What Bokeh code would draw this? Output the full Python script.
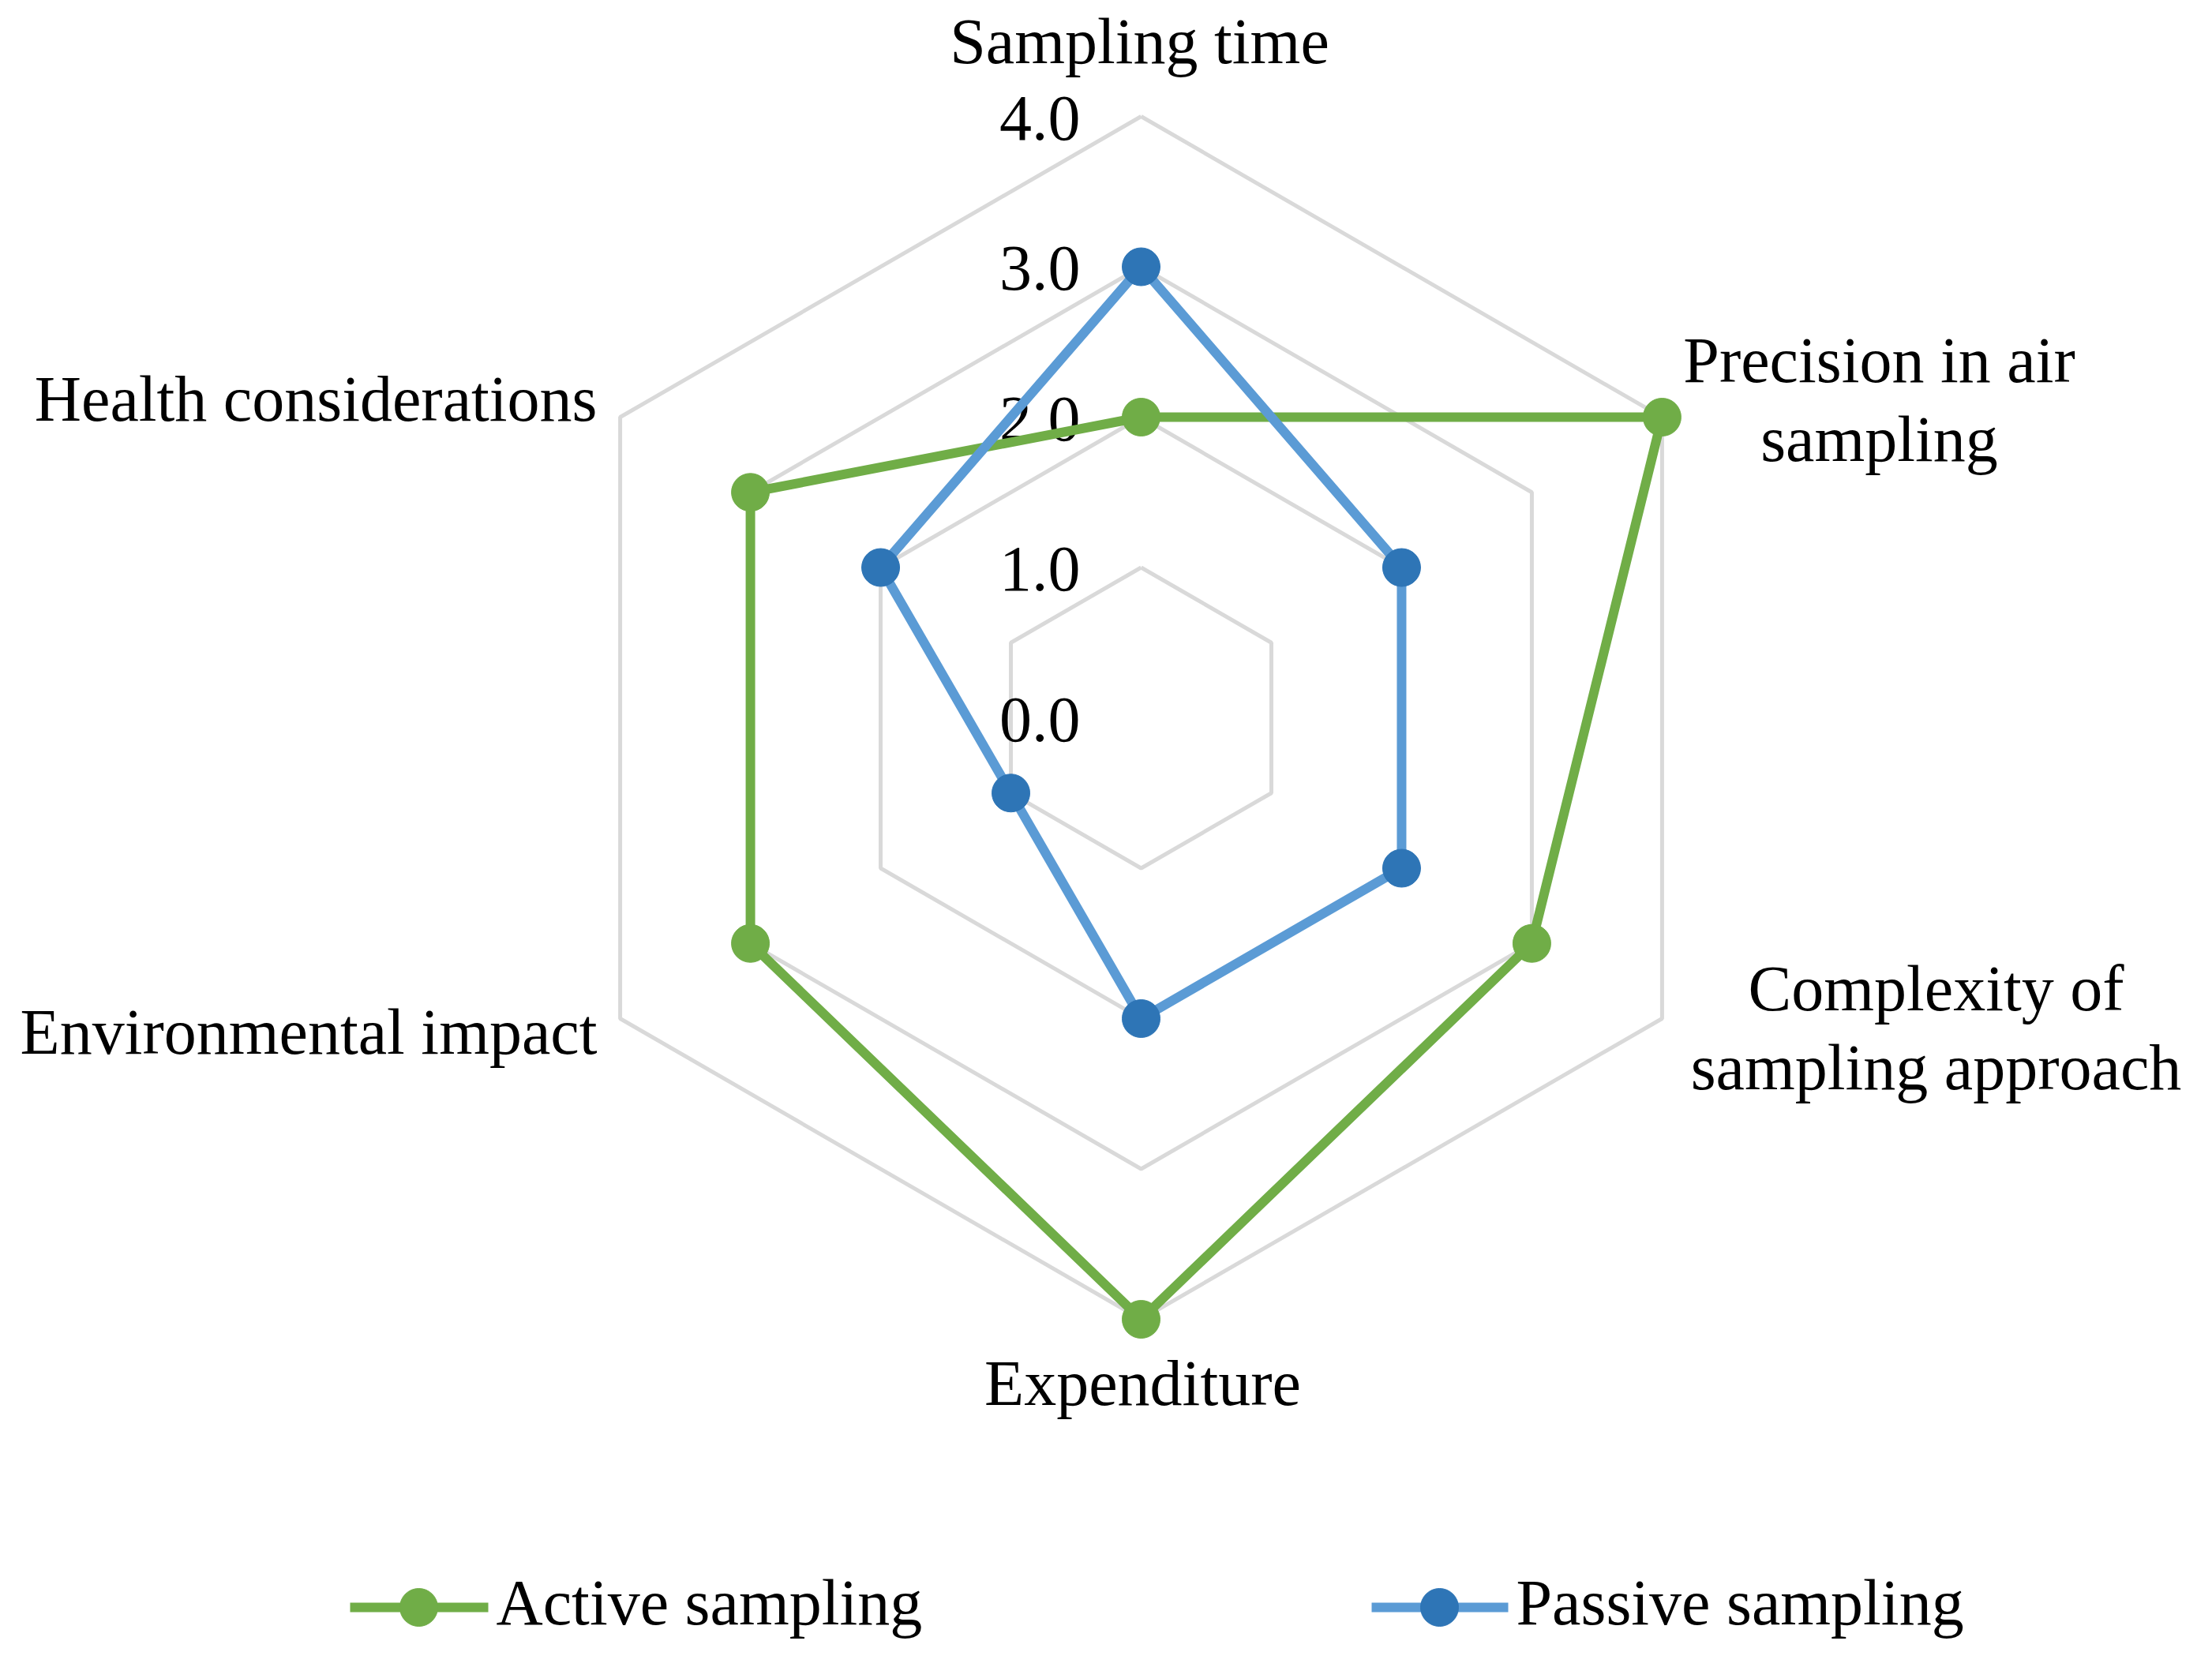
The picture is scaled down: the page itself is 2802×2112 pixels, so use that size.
import numpy as np
from bokeh.plotting import figure
from bokeh.models import Range1d, ColumnDataSource
from bokeh.core.properties import value
from bokeh.embed import file_html
from bokeh.resources import INLINE

# ---------------- data ----------------
categories = ["Sampling time",
              "Precision in air\nsampling",
              "Complexity of\nsampling approach",
              "Expenditure",
              "Environmental impact",
              "Health considerations"]
active = [2.0, 4.0, 3.0, 4.0, 3.0, 3.0]
passive = [3.0, 2.0, 2.0, 2.0, 1.0, 2.0]
tick_values = [0.0, 1.0, 2.0, 3.0, 4.0]
tick_labels = ["0.0", "1.0", "2.0", "3.0", "4.0"]
series_names = ["Active sampling", "Passive sampling"]

# ---------------- layout ----------------
W, H = 2786, 2096
OFF = 0                            # figure origin in the photographed page
CX, CY, U = 1445.0, 909.0, 190.5   # page-pixel centre and pixels per unit
TXT_SHIFT = 28                     # empirical upward shift of text baselines (px)


def dx(X):
    return (X - CX) / U


def dy(Y):
    return (CY - Y) / U


def ty(Y):
    return dy(Y - TXT_SHIFT)


FONT = value("Liberation Serif")
FSIZE = value("82px")
GREEN = "#70AD47"
BLUE_LINE = "#5B9BD5"
BLUE_MARK = "#2E75B6"
GRID = "#D9D9D9"

p = figure(width=W, height=H, output_backend="svg", toolbar_location=None,
           x_range=Range1d(dx(OFF), dx(OFF + W)), y_range=Range1d(dy(OFF + H), dy(OFF)),
           min_border=0)
p.axis.visible = False
p.grid.visible = False
p.outline_line_color = None
p.background_fill_color = "white"
p.border_fill_color = "white"

n = len(categories)
theta = np.pi / 2 - np.arange(n) * 2 * np.pi / n


def polar(vals):
    v = np.asarray(vals, dtype=float)
    return v * np.cos(theta), v * np.sin(theta)


# grid hexagons
for t in tick_values[1:]:
    gx, gy = polar([t] * n)
    p.line(list(gx) + [gx[0]], list(gy) + [gy[0]], line_color=GRID, line_width=5)

# tick labels (right-aligned left of the vertical axis)
p.text(x=[dx(1368)] * len(tick_values),
       y=[ty(CY - t * U + 30) for t in tick_values],
       text=tick_labels, text_font=FONT, text_font_size=FSIZE,
       text_align="right", text_baseline="alphabetic", text_color="black")

# series
for vals, lc, mc in [(active, GREEN, GREEN), (passive, BLUE_LINE, BLUE_MARK)]:
    sx, sy = polar(vals)
    p.line(list(sx) + [sx[0]], list(sy) + [sy[0]], line_color=lc, line_width=12,
           line_join="round")
    p.scatter(sx, sy, size=48, fill_color=mc, line_color=mc, marker="circle")

# category labels: anchor (page x, first baseline page y, align)
anchors = [(1443, 80, "center"), (2380, 484, "center"), (2452, 1280, "center"),
           (1447, 1780, "center"), (756, 1335, "right"), (756, 533, "right")]
LINE_GAP = 100
lx, ly, lt, la = [], [], [], []
for cat, (ax, ay, al) in zip(categories, anchors):
    for k, line in enumerate(cat.split("\n")):
        lx.append(dx(ax))
        ly.append(ty(ay + k * LINE_GAP))
        lt.append(line)
        la.append(al)
src = ColumnDataSource(dict(x=lx, y=ly, text=lt, align=la))
p.text(x="x", y="y", text="text", text_align="align", source=src,
       text_font=FONT, text_font_size=FSIZE, text_baseline="alphabetic",
       text_color="black")

# legend (drawn manually)
leg_y = dy(2036)
leg = [(443, 618, 530, 628, GREEN, GREEN), (1737, 1910, 1823, 1920, BLUE_LINE, BLUE_MARK)]
for name, (x0, x1, xm, xt, lc, mc) in zip(series_names, leg):
    p.line([dx(x0), dx(x1)], [leg_y, leg_y], line_color=lc, line_width=12)
    p.scatter([dx(xm)], [leg_y], size=48, fill_color=mc, line_color=mc)
    p.text(x=[dx(xt)], y=[ty(2058)], text=[name], text_font=FONT, text_font_size=FSIZE,
           text_align="left", text_baseline="alphabetic", text_color="black")

open("out.html", "w").write(file_html(p, INLINE))
